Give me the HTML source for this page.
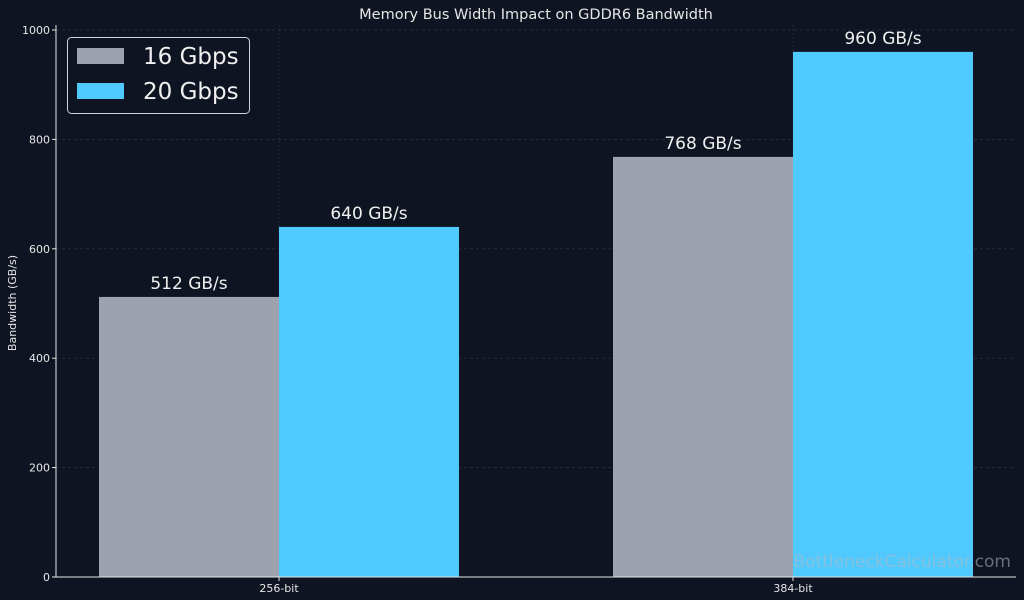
<!DOCTYPE html>
<html><head><meta charset="utf-8"><style>
html,body{margin:0;padding:0;background:#0e1421;}
svg{display:block;font-family:"DejaVu Sans","Liberation Sans",sans-serif;}
</style></head><body>
<svg id="chart" width="1024" height="600" xmlns="http://www.w3.org/2000/svg">
<rect width="1024" height="600" fill="#0e1421"/>
<text x="536" y="19" fill="#e6e6e6" font-size="14.5" text-anchor="middle">Memory Bus Width Impact on GDDR6 Bandwidth</text>
<text transform="translate(16,303) rotate(-90)" fill="#e6e6e6" font-size="11" text-anchor="middle">Bandwidth (GB/s)</text>
<g id="grid"></g><g id="bars"></g><g id="axes"></g>
<text x="1011" y="567" fill="#b4b9c2" fill-opacity="0.55" font-size="17" text-anchor="end">BottleneckCalculator.com</text>
<g>
<rect x="67.5" y="37.5" width="182" height="76" rx="4" fill="#0e1421" stroke="#cfd3da" stroke-width="1"/>
<rect x="77" y="48" width="47" height="16" fill="#9ca3af"/>
<text x="143" y="64" fill="#f0f0f0" font-size="23">16 Gbps</text>
<rect x="77" y="83" width="47" height="16" fill="#4fc9fe"/>
<text x="143" y="99" fill="#f0f0f0" font-size="23">20 Gbps</text>
</g>
</svg>
<script>
const categories = ["256-bit","384-bit"];
const series16 = [512,768];
const series20 = [640,960];
const seriesNames = ["16 Gbps","20 Gbps"];
const yTicks = [0,200,400,600,800,1000];

const NS="http://www.w3.org/2000/svg";
const L=56,R=1016,T=30,B=577;
const xs=i=>279+i*514;
const bw=180;
const ys=v=>B-(v/1000)*(B-T);
function mk(tag,attrs,parent,text){const e=document.createElementNS(NS,tag);for(const k in attrs)e.setAttribute(k,attrs[k]);if(text!==undefined)e.textContent=text;parent.appendChild(e);return e;}
const grid=document.getElementById('grid'),bars=document.getElementById('bars'),axes=document.getElementById('axes');
yTicks.forEach(t=>{
  if(t>0){const g=mk('line',{x1:L,x2:R,y1:ys(t),y2:ys(t),stroke:'#2c3342','stroke-width':0.7,'stroke-dasharray':'3,3'},grid);
  
  }
  const tk=mk('line',{x1:L-4,x2:L,y1:ys(t),y2:ys(t),stroke:'#e6e6e6'},axes);
  
  
  const lb=mk('text',{x:L-6,y:ys(t)+4,fill:'#e6e6e6','font-size':11,'text-anchor':'end'},axes,String(t));
  
  
});
categories.forEach((c,i)=>{
  const g=mk('line',{x1:xs(i),x2:xs(i),y1:T-5,y2:B,stroke:'#2c3342','stroke-width':0.7,'stroke-dasharray':'2,2'},grid);
  
  
  [[series16,'#9ca3af',-1],[series20,'#4fc9fe',0]].forEach(([s,col,off],k)=>{
    const x=xs(i)+off*bw;
    const r=mk('rect',{x:x,y:ys(s[i]),width:bw,height:B-ys(s[i]),fill:col},bars);
    
    
    const t=mk('text',{x:x+bw/2,y:ys(s[i])-8,fill:'#f0f0f0','font-size':17,'text-anchor':'middle'},bars,s[i]+' GB/s');
    
    
  });
  const tk=mk('line',{x1:xs(i),x2:xs(i),y1:B,y2:B+4,stroke:'#e6e6e6'},axes);
  
  
  const lb=mk('text',{x:xs(i),y:B+15,fill:'#e6e6e6','font-size':11,'text-anchor':'middle'},axes,c);
  
  
});
const ya=mk('line',{x1:L,x2:L,y1:T-5,y2:B,stroke:'#e6e6e6','stroke-width':1},axes);


const xa=mk('line',{x1:L,x2:R,y1:B,y2:B,stroke:'#e6e6e6','stroke-width':1},axes);


</script>
</body></html>
